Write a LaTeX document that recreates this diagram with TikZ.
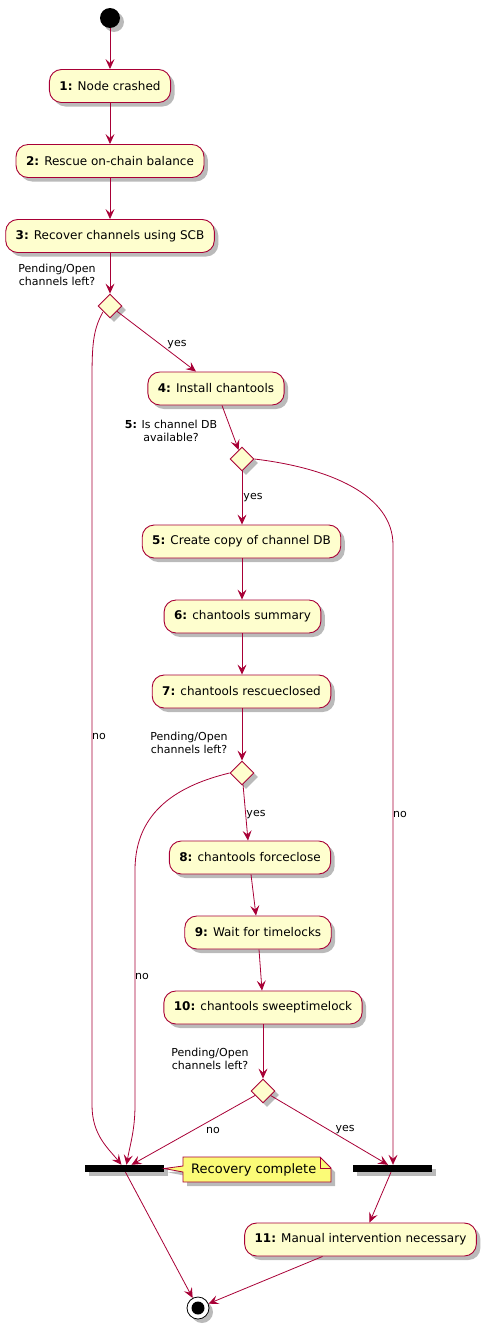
\documentclass[tikz,border=0pt]{standalone}
\usepackage{fontspec}
\setmainfont{DejaVu Sans}
\usetikzlibrary{shapes.geometric,shadows,arrows.meta,calc}
\definecolor{umlred}{HTML}{A80036}
\definecolor{umlfill}{HTML}{FEFECE}
\definecolor{notefill}{HTML}{FBFB77}
\tikzset{
  x=1pt,y=-1pt,
  shad/.style={drop shadow={fill=black!60,opacity=0.45,shadow xshift=4pt,shadow yshift=-4pt}},
  act/.style={draw=umlred,fill=umlfill,rounded corners=12pt,minimum height=33pt,inner xsep=10pt,inner ysep=0pt,line width=0.9pt,font=\fontsize{12}{14}\selectfont,shad},
  dec/.style={draw=umlred,fill=umlfill,diamond,aspect=1,minimum size=24pt,inner sep=0pt,line width=0.9pt,shad},
  lbl/.style={font=\fontsize{11}{13}\selectfont,align=center,inner sep=0pt},
  barr/.style={fill=black,minimum width=79pt,minimum height=7pt,inner sep=0pt,shad},
  flow/.style={draw=umlred,line width=0.8pt,-{Stealth[length=10pt,width=9pt,inset=4pt]}},
}
\begin{document}
\begin{tikzpicture}
\useasboundingbox (0,0) rectangle (485,1328);
% start
\node[circle,fill=black,minimum size=20pt,inner sep=0pt,shad] (start) at (110,18) {};
% actions
\node[act] (b1) at (110,86) {\textbf{1:} Node crashed};
\node[act] (b2) at (110,161) {\textbf{2:} Rescue on-chain balance};
\node[act] (b3) at (110,236) {\textbf{3:} Recover channels using SCB};
\node[lbl] (l1) at (57,274.5) {Pending/Open\\channels left?};
\node[dec] (d1) at (110,306) {};
\node[act] (b4) at (216,388.5) {\textbf{4:} Install chantools};
\node[lbl] (l2) at (171,431) {\textbf{5:} Is channel DB\\available?};
\node[dec] (d2) at (242,459) {};
\node[act] (b5) at (241.5,541.5) {\textbf{5:} Create copy of channel DB};
\node[act] (b6) at (242.5,616.5) {\textbf{6:} chantools summary};
\node[act] (b7) at (241.5,691.5) {\textbf{7:} chantools rescueclosed};
\node[lbl] (l3) at (189,742.5) {Pending/Open\\channels left?};
\node[dec] (d3) at (242,773) {};
\node[act] (b8) at (250,857.5) {\textbf{8:} chantools forceclose};
\node[act] (b9) at (258,932.5) {\textbf{9:} Wait for timelocks};
\node[act] (b10) at (263,1007.5) {\textbf{10:} chantools sweeptimelock};
\node[lbl] (l4) at (210,1058.5) {Pending/Open\\channels left?};
\node[dec] (d4) at (263,1091) {};
\node[barr] (bar1) at (124.5,1168.5) {};
\node[barr] (bar2) at (392,1168.5) {};
\node[act] (b11) at (360.5,1239.5) {\textbf{11:} Manual intervention necessary};
% end
\node[circle,draw=black,fill=white,minimum size=22pt,inner sep=0pt,line width=0.8pt,shad] (end) at (198,1308) {};
\node[circle,fill=black,minimum size=13pt,inner sep=0pt] (endin) at (198,1308) {};
% note
\draw[draw=umlred,fill=notefill,line width=0.8pt,drop shadow={fill=black!60,opacity=0.45,shadow xshift=4pt,shadow yshift=-4pt}]
  (183,1157) -- (320,1157) -- (331,1168) -- (331,1182) -- (183,1182) -- (183,1172) -- (bar1.east) -- (183,1166) -- cycle;
\draw[draw=umlred,line width=0.8pt] (320,1157) -- (320,1168) -- (331,1168);
\node[font=\fontsize{13}{15}\selectfont,anchor=west,inner sep=0pt] (note) at (191,1169.5) {Recovery complete};
% flows
\draw[flow] (start) -- (b1);
\draw[flow] (b1) -- (b2);
\draw[flow] (b2) -- (b3);
\draw[flow] (b3) -- (d1);
\draw[flow] (d1) -- ($(b4.north)+(-20,0)$);
\node[lbl] (yes1) at (177,345) {yes};
\draw[flow] (d1.south west) ++(-1,0) .. controls (93,330) and (92,345) .. (92,380) -- (92,1105)
   .. controls (92,1135) and (108,1148) .. ($(bar1.north)+(-3,0)$);
\node[lbl] (nol1) at (99,736) {no};
\draw[flow] ($(b4.south)+(6,0)$) -- (d2);
\draw[flow] (d2) -- (b5.north -| d2);
\node[lbl] (yes2) at (253,498) {yes};
\draw[flow] (d2.east) .. controls (330,468) and (393,495) .. (393,545) -- ($(bar2.north)+(1,0)$);
\node[lbl] (nol2) at (400,814) {no};
\draw[flow] (b5.south -| d2) -- (b6.north -| d2);
\draw[flow] (b6.south -| d2) -- (b7.north -| d2);
\draw[flow] (b7.south -| d3) -- (d3);
\draw[flow] (d3) -- ($(b8.north)+(-2,0)$);
\node[lbl] (yes3) at (256,815) {yes};
\draw[flow] (d3.west) .. controls (180,785) and (135,810) .. (135,870) -- (135,1105)
   .. controls (135,1130) and (130,1145) .. ($(bar1.north)+(2,0)$);
\node[lbl] (nol3) at (142,976) {no};
\draw[flow] ($(b8.south)+(1,0)$) -- ($(b9.north)+(-2,0)$);
\draw[flow] ($(b9.south)+(1,0)$) -- ($(b10.north)+(-1,0)$);
\draw[flow] (b10) -- (d4);
\draw[flow] (d4) -- ($(bar1.north)+(7,0)$);
\node[lbl] (nol4) at (213,1130) {no};
\draw[flow] (d4) -- ($(bar2.north)+(-4,0)$);
\node[lbl] (yes4) at (345,1130) {yes};
\draw[flow] ($(bar2.south)+(-1,0)$) -- ($(b11.north)+(9,0)$);
\draw[flow] ($(bar1.south)+(1,0)$) -- (end);
\draw[flow] ($(b11.south)+(-38,0)$) -- (end);
\end{tikzpicture}
\end{document}
